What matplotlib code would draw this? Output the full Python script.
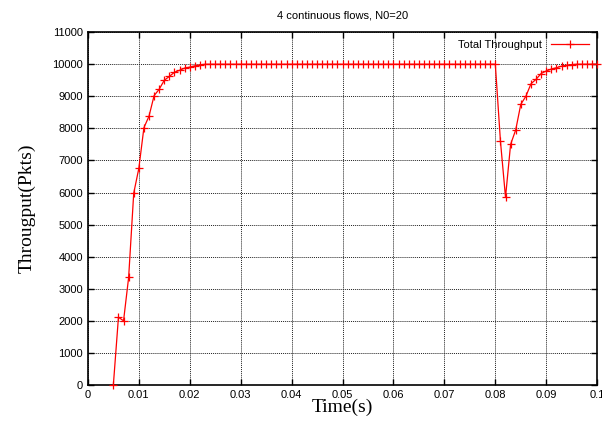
import numpy as np
import matplotlib.pyplot as plt

## Throughput samples, one every 1 ms
time_s = [0.005, 0.006, 0.007, 0.008, 0.009, 0.010, 0.011, 0.012, 0.013, 0.014,
          0.015, 0.016, 0.017, 0.018, 0.019, 0.020, 0.021, 0.022] \
         + [round(0.023 + 0.001 * i, 3) for i in range(58)] \
         + [0.081, 0.082, 0.083, 0.084, 0.085, 0.086, 0.087, 0.088, 0.089, 0.090,
            0.091, 0.092, 0.093, 0.094, 0.095, 0.096, 0.097, 0.098, 0.099, 0.100]
throughput = [0, 2110, 2000, 3350, 5980, 6750, 8020, 8380, 9020, 9220,
              9500, 9620, 9750, 9810, 9880, 9910, 9950, 9980] \
             + [10000] * 58 \
             + [7610, 5850, 7500, 7950, 8750, 9000, 9390, 9530, 9710, 9790,
                9850, 9890, 9940, 9970, 9990, 10000, 10000, 10000, 10000, 10000]

x_ticks = [0, 0.01, 0.02, 0.03, 0.04, 0.05, 0.06, 0.07, 0.08, 0.09, 0.1]
x_labels = ["0", "0.01", "0.02", "0.03", "0.04", "0.05", "0.06", "0.07", "0.08", "0.09", "0.1"]
y_ticks = list(range(0, 11001, 1000))

fig = plt.figure(figsize=(6.02, 4.23), dpi=100)
ax = fig.add_axes([0.146, 0.09, 0.846, 0.834])

ax.plot(time_s, throughput, color='#ff0000', lw=0.9, marker='+', ms=5.5, mew=0.9,
        label='Total Throughput', clip_on=False, zorder=3)

ax.set_xlim(0, 0.1)
ax.set_ylim(0, 11000)
ax.set_xticks(x_ticks)
ax.set_xticklabels(x_labels)
ax.set_yticks(y_ticks)
ax.tick_params(direction='in', top=True, right=True, labelsize=8, length=4, width=1)
for lab in ax.get_xticklabels() + ax.get_yticklabels():
    lab.set_family('Liberation Sans')
ax.grid(True, color='#202020', linestyle=(0, (1, 1)), lw=0.7)
for sp in ax.spines.values():
    sp.set_linewidth(1.2)

ax.set_xlabel('Time(s)', family='Liberation Serif', fontsize=14, labelpad=-1)
ax.set_ylabel('Througput(Pkts)', family='Liberation Serif', fontsize=14, labelpad=12)
ax.set_title('4 continuous flows, N0=20', family='Liberation Sans', fontsize=8, pad=10)

ax.legend(loc='upper right', frameon=False, markerfirst=False,
          prop={'family': 'Liberation Sans', 'size': 8}, handlelength=3.5,
          borderaxespad=0.3)

fig.savefig('out.png', dpi=100)
